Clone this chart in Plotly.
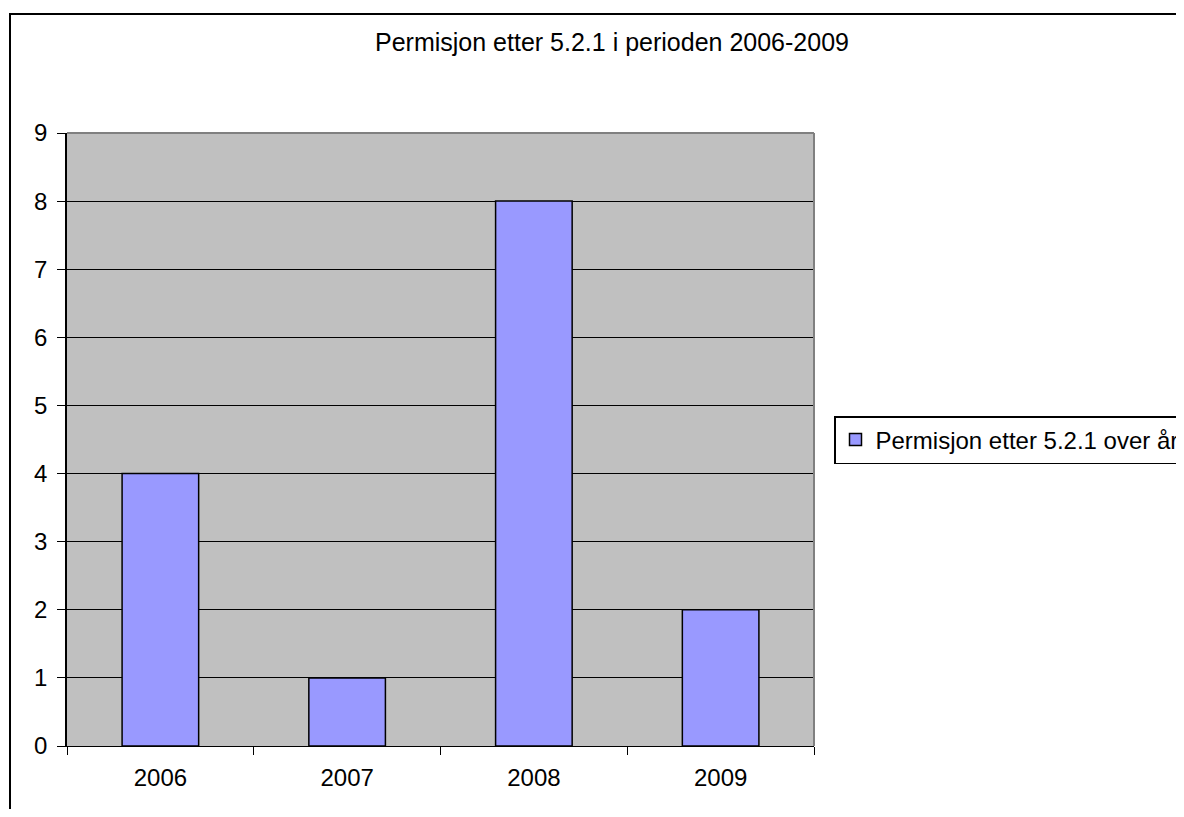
import plotly.graph_objects as go

years = ["2006", "2007", "2008", "2009"]
values = [4, 1, 8, 2]
series_name = "Permisjon etter 5.2.1 over år"
title_text = "Permisjon etter 5.2.1 i perioden 2006-2009"

# the page body has an 8px margin, so the figure is drawn 8px in from the window
OFF = 8
W, H = 1184 - 2 * OFF, 817 - 2 * OFF
L, R, T, B = 67 - OFF, 814 - OFF, 133 - OFF, 746 - OFF

def px_x(p):
    return (p - OFF - L) / (R - L)

def px_y(p):
    return (B - (p - OFF)) / (B - T)

fig = go.Figure()
fig.add_trace(go.Bar(
    x=years, y=values, name=series_name,
    marker=dict(color="#9999FF", line=dict(color="black", width=1.5)),
    showlegend=True,
))

font = "Liberation Sans, Arial, sans-serif"

fig.update_layout(
    width=W, height=H,
    margin=dict(l=L, r=W - R, t=T, b=H - B, autoexpand=False),
    paper_bgcolor="white",
    plot_bgcolor="#C0C0C0",
    bargap=0.59,
    font=dict(family=font, size=24, color="black"),
    title=dict(text=title_text, x=(612 - OFF) / W, xanchor="center", xref="container",
               y=1 - (42 - OFF) / H, yanchor="middle", yref="container",
               font=dict(family=font, size=25, color="black")),
    showlegend=True,
    legend=dict(x=px_x(834), xanchor="left", y=px_y(440), yanchor="middle",
                bordercolor="black", borderwidth=1.5, bgcolor="white",
                font=dict(family=font, size=24, color="black"),
                itemwidth=30),
    xaxis=dict(range=[-0.5, 3.5], showline=True, linecolor="black", linewidth=1,
               ticks="outside", tickson="boundaries", ticklen=8, tickcolor="black",
               showgrid=False, mirror=False, fixedrange=True, ticklabelstandoff=10,
               tickfont=dict(family=font, size=24, color="black")),
    yaxis=dict(range=[0, 9], dtick=1, showline=True, linecolor="black", linewidth=1.5,
               ticks="outside", ticklen=8, tickcolor="black", ticklabelstandoff=5,
               showgrid=True, gridcolor="black", gridwidth=1, zeroline=False,
               tickfont=dict(family=font, size=24, color="black")),
    shapes=[
        # plot area top and right borders (gray)
        dict(type="line", xref="paper", yref="paper", x0=0, x1=1, y0=1, y1=1,
             line=dict(color="#808080", width=2)),
        dict(type="line", xref="paper", yref="paper", x0=1, x1=1, y0=0, y1=1,
             line=dict(color="#808080", width=2)),
        # outer chart border
        dict(type="rect", xref="paper", yref="paper",
             x0=px_x(10), x1=px_x(1300), y0=px_y(900), y1=px_y(14),
             line=dict(color="black", width=2), layer="below"),
    ],
)

fig.write_html("out.html")
